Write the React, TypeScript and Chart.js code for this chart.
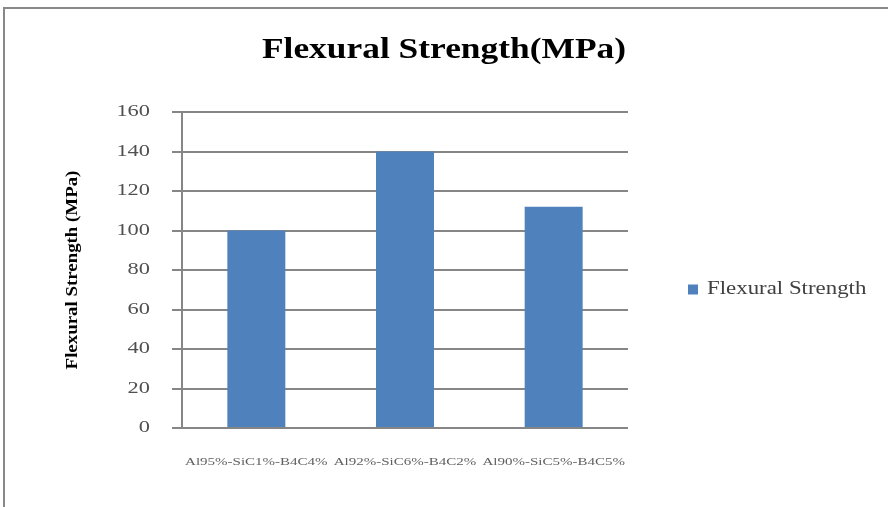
import React, { useEffect, useRef } from "react";
import { Chart, registerables } from "chart.js";

Chart.register(...registerables);

const categories = ["Al95%-SiC1%-B4C4%", "Al92%-SiC6%-B4C2%", "Al90%-SiC5%-B4C5%"];
const seriesName = "Flexural Strength";
const values = [100, 140, 112];
const yMin = 0;
const yMax = 160;
const yStep = 20;

const SERIF = "'Liberation Serif', 'Times New Roman', serif";

export default function App() {
  const ref = useRef<HTMLCanvasElement | null>(null);

  useEffect(() => {
    if (!ref.current) return;
    const legendWidthPlugin = {
      id: "legendWidth",
      beforeLayout(chart: any) {
        const lg = chart.legend;
        if (lg && !lg.__patched) {
          const orig = lg.fit;
          lg.fit = function () {
            orig.call(this);
            this.width = 260;
          };
          lg.__patched = true;
        }
      },
    };
    // stretches text horizontally about its anchor point
    const stretchPlugin = {
      id: "stretch",
      beforeDraw(chart: any) {
        const wrap = (obj: any, name: string, sx: number, dy = 0) => {
          if (!obj || obj["__p_" + name]) return;
          const orig = obj[name];
          obj[name] = function (...args: any[]) {
            const ctx: any = chart.ctx;
            const origFill = ctx.fillText;
            ctx.fillText = function (t: string, x: number, y: number, mw?: number) {
              ctx.save();
              ctx.translate(x, y);
              ctx.scale(sx, 1);
              if (mw === undefined) origFill.call(ctx, t, 0, 0);
              else origFill.call(ctx, t, 0, 0, mw / sx);
              ctx.restore();
            };
            ctx.save();
            if (dy) ctx.translate(0, dy);
            try {
              orig.apply(this, args);
            } finally {
              ctx.restore();
              ctx.fillText = origFill;
            }
          };
          obj["__p_" + name] = true;
        };
        wrap(chart.titleBlock, "draw", 1.18);
        wrap(chart.legend, "draw", 1.27, 36);
        wrap(chart.scales.y, "drawLabels", 1.4);
        wrap(chart.scales.y, "drawTitle", 1.11);
        wrap(chart.scales.x, "drawLabels", 1.5);
      },
    };
    const chart = new Chart(ref.current, {
      type: "bar",
      data: {
        labels: categories,
        datasets: [
          {
            label: seriesName,
            data: values,
            backgroundColor: "#4F81BD",
            borderWidth: 0,
            barPercentage: 0.39,
            categoryPercentage: 1,
          },
        ],
      },
      options: {
        animation: false,
        responsive: false,
        layout: { padding: { left: 0, right: 0, top: 0, bottom: 0 } },
        plugins: {
          title: {
            display: true,
            text: "Flexural Strength(MPa)",
            color: "#000",
            font: { family: SERIF, size: 30, weight: "bold" },
            padding: { top: 32, bottom: 44 },
          },
          legend: {
            position: "right",
            labels: {
              boxWidth: 10,
              boxHeight: 10,
              padding: 60,
              color: "#404040",
              font: { family: SERIF, size: 18 },
            },
          },
          tooltip: { enabled: false },
        },
        scales: {
          x: {
            grid: { display: false, drawTicks: false },
            border: { display: false },
            ticks: {
              color: "#606060",
              font: { family: SERIF, size: 10 },
              padding: 28,
              maxRotation: 0,
              minRotation: 0,
              autoSkip: false,
            },
            afterFit(scale: any) {
              scale.height = 79;
            },
          },
          y: {
            min: yMin,
            max: yMax,
            ticks: {
              stepSize: yStep,
              color: "#505050",
              font: { family: SERIF, size: 16 },
              padding: 22,
            },
            grid: {
              color: "#868686",
              lineWidth: 2,
              tickLength: 10,
            },
            border: { display: true, color: "#868686", width: 2 },
            title: {
              display: true,
              text: "Flexural Strength (MPa)",
              color: "#000",
              font: { family: SERIF, size: 17, weight: "bold" },
              padding: { top: 62, bottom: 0 },
            },
            afterFit(scale: any) {
              scale.width = 182;
            },
          },
        },
      },
      plugins: [legendWidthPlugin, stretchPlugin],
    } as any);
    return () => chart.destroy();
  }, []);

  return (
    <div style={{ position: "fixed", left: 0, top: 0, width: 888, height: 507, background: "#fff", overflow: "hidden" }}>
      <div
        style={{
          position: "absolute",
          left: 3,
          top: 7,
          width: 1000,
          height: 1000,
          borderLeft: "2px solid #888",
          borderTop: "2px solid #888",
        }}
      />
      <canvas ref={ref} width={888} height={507} style={{ position: "absolute", left: 0, top: 0 }} />
    </div>
  );
}
